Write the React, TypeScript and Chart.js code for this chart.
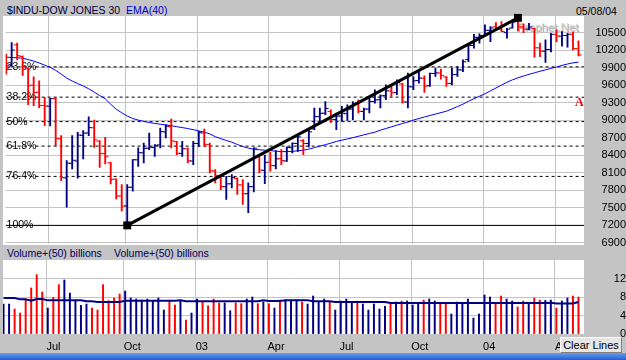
import { useEffect, useRef } from 'react';
import { Chart, registerables } from 'chart.js';

Chart.register(...registerables);

// ---- data (weekly bars, May 2002 - May 2004) ----
const OPEN = [
  10080, 9950, 10290, 10090, 9890, 9600, 9480, 9250, 9240, 9370,
  8680, 8010, 8260, 8300, 8740, 8780, 8870, 8640, 8430, 8270,
  7990, 7700, 7530, 7850, 8320, 8440, 8520, 8530, 8575, 8800,
  8890, 8630, 8430, 8510, 8300, 8600, 8780, 8580, 8130, 8050,
  7860, 7910, 8000, 7890, 7740, 7860, 8380, 8140, 8280, 8220,
  8340, 8300, 8530, 8600, 8650, 8600, 8850, 9060, 9120, 9150,
  9010, 9070, 9110, 9190, 9280, 9150, 9190, 9320, 9350, 9420,
  9500, 9470, 9620, 9310, 9570, 9680, 9720, 9590, 9800, 9810,
  9740, 9630, 9780, 9860, 10040, 10280, 10420, 10450, 10540, 10600,
  10560, 10500, 10580, 10690, 10600, 10560, 10570, 10240, 10180, 10210,
  10470, 10440, 10450, 10470, 10225,
];
const HIGH = [
  10131, 10329, 10319, 10102, 9897, 9743, 9674, 9392, 9375, 9392,
  8734, 8307, 8734, 8791, 8820, 9059, 9003, 8649, 8705, 8278,
  7994, 7897, 7897, 8324, 8524, 8609, 8780, 8580, 8866, 8922,
  9020, 8637, 8637, 8524, 8637, 8808, 8849, 8609, 8153, 8068,
  8038, 8068, 8011, 7982, 7926, 8524, 8395, 8400, 8450, 8480,
  8495, 8545, 8610, 8737, 8666, 8837, 9208, 9208, 9320, 9179,
  9122, 9235, 9264, 9320, 9350, 9208, 9379, 9521, 9435, 9606,
  9589, 9691, 9635, 9806, 9748, 9833, 9760, 9806, 9891, 9874,
  9748, 9891, 9919, 10033, 10290, 10470, 10478, 10632, 10603, 10671,
  10688, 10575, 10717, 10753, 10650, 10660, 10575, 10319, 10375, 10490,
  10546, 10520, 10490, 10505, 10360,
];
const LOW = [
  9789, 9919, 10033, 9768, 9264, 9247, 9213, 8905, 8900, 8563,
  7965, 7509, 8165, 8004, 8336, 8734, 8534, 8192, 8250, 7909,
  7652, 7440, 7197, 7782, 8209, 8268, 8495, 8380, 8524, 8695,
  8524, 8409, 8380, 8268, 8238, 8551, 8551, 8097, 7926, 7811,
  7640, 7840, 7726, 7555, 7416, 7770, 8097, 7910, 8124, 8165,
  8238, 8295, 8438, 8466, 8409, 8538, 8837, 8979, 9093, 8962,
  8837, 8979, 8995, 9008, 9122, 9008, 9122, 9293, 9208, 9350,
  9406, 9435, 9293, 9208, 9521, 9635, 9474, 9577, 9748, 9703,
  9577, 9606, 9748, 9833, 10004, 10233, 10319, 10432, 10346, 10546,
  10517, 10404, 10575, 10530, 10500, 10546, 10080, 10090, 9990, 10170,
  10340, 10270, 10250, 10205, 10100,
];
const CLOSE = [
  9940, 10200, 10105, 9925, 9590, 9474, 9253, 9243, 9370, 8684,
  8019, 8264, 8313, 8745, 8778, 8872, 8664, 8427, 8380, 7986,
  7701, 7528, 7850, 8322, 8443, 8517, 8537, 8570, 8804, 8896,
  8645, 8433, 8511, 8303, 8601, 8785, 8586, 8131, 8053, 7864,
  7908, 8018, 7891, 7740, 7859, 8521, 8145, 8277, 8221, 8337,
  8306, 8530, 8604, 8713, 8601, 8800, 9062, 9117, 9200, 9011,
  9070, 9119, 9188, 9285, 9153, 9191, 9321, 9348, 9416, 9503,
  9472, 9644, 9313, 9573, 9674, 9721, 9582, 9801, 9810, 9768,
  9629, 9782, 9863, 10000, 10278, 10420, 10450, 10540, 10580, 10560,
  10520, 10560, 10680, 10600, 10560, 10595, 10240, 10186, 10212, 10470,
  10442, 10452, 10472, 10225, 10117,
];
const EMA40 = [
  10080, 10074, 10069, 10062, 10038, 10013, 9980, 9943, 9905, 9854,
  9789, 9721, 9671, 9628, 9586, 9538, 9481, 9421, 9367, 9273,
  9187, 9127, 9071, 9028, 9001, 8980, 8960, 8944, 8931, 8919,
  8905, 8888, 8873, 8856, 8837, 8816, 8794, 8765, 8717, 8683,
  8652, 8623, 8584, 8548, 8521, 8503, 8493, 8486, 8478, 8469,
  8461, 8461, 8466, 8474, 8486, 8503, 8529, 8555, 8580, 8606,
  8635, 8657, 8678, 8700, 8724, 8748, 8772, 8794, 8828, 8857,
  8885, 8914, 8941, 8970, 9001, 9028, 9054, 9080, 9103, 9129,
  9153, 9192, 9233, 9274, 9324, 9367, 9409, 9452, 9503, 9551,
  9601, 9649, 9691, 9726, 9756, 9785, 9811, 9838, 9862, 9888,
  9910, 9938, 9962, 9982, 9994,
];
const VOLUME = [
  6.49, 6.49, 5.41, 4.54, 7.43, 9.95, 12.83, 9.08, 5.62, 7.93,
  10.67, 11.68, 8.87, 7.21, 6.20, 6.49, 5.62, 5.19, 10.67, 7.21,
  7.79, 8.65, 9.30, 7.79, 7.57, 7.35, 7.57, 7.07, 7.79, 5.19,
  7.07, 6.27, 7.35, 3.03, 4.54, 7.57, 7.07, 6.13, 7.57, 6.71,
  6.71, 5.05, 6.71, 6.56, 7.57, 8.00, 6.56, 6.92, 6.56, 5.62,
  7.35, 7.35, 7.35, 7.35, 6.92, 6.49, 8.22, 6.92, 7.57, 6.92,
  5.19, 7.14, 7.57, 6.92, 7.14, 6.49, 5.19, 6.49, 5.41, 5.98,
  6.49, 6.92, 7.14, 7.14, 6.27, 6.49, 7.35, 7.57, 7.14, 6.71,
  6.49, 4.33, 6.92, 6.71, 7.57, 3.46, 4.33, 8.44, 8.00, 6.71,
  8.22, 7.57, 7.14, 5.84, 7.14, 6.71, 7.79, 7.35, 7.28, 7.35,
  5.62, 7.14, 7.79, 8.22, 8.00,
];
const VOL_MA50 = [
  7.79, 7.79, 7.79, 7.50, 7.50, 7.21, 7.57, 7.57, 7.28, 7.28,
  7.28, 7.28, 7.28, 7.28, 7.28, 7.07, 7.07, 6.92, 6.92, 6.92,
  6.92, 6.92, 7.21, 7.21, 7.21, 7.21, 7.21, 7.21, 7.21, 7.21,
  7.21, 7.21, 7.28, 7.07, 7.07, 7.07, 7.07, 7.07, 7.07, 7.07,
  7.07, 7.07, 7.07, 7.07, 7.07, 7.07, 7.07, 7.28, 7.14, 7.14,
  7.14, 7.28, 7.28, 7.28, 7.28, 7.28, 7.07, 7.07, 7.07, 7.07,
  6.92, 6.92, 6.92, 6.92, 6.92, 6.92, 6.92, 6.92, 6.92, 6.92,
  6.71, 6.71, 6.71, 6.71, 6.71, 6.71, 6.71, 6.71, 6.71, 6.71,
  6.71, 6.71, 6.71, 6.71, 6.71, 6.71, 6.71, 6.71, 6.71, 6.71,
  6.71, 6.71, 6.71, 6.71, 6.71, 6.71, 6.71, 6.71, 6.71, 6.78,
  6.63, 6.63, 6.63, 6.63, 6.92,
];

// x-axis month boundaries (in week-index units) and their labels
const X_TICK_POS = [7.75, 21.75, 34.75, 47.75, 60.75, 73.75, 86.75, 99.75];
const X_TICK_LABELS = ['Jul', 'Oct', '03', 'Apr', 'Jul', 'Oct', '04', 'Apr'];
const PRICE_TICKS = [6900, 7200, 7500, 7800, 8100, 8400, 8700, 9000, 9300, 9600, 9900, 10200, 10500];
const VOL_TICKS = [0, 4, 8, 12];

// Fibonacci retracement drawn between the swing low and swing high
const SWING_LOW = { week: 22, value: 7197 };
const SWING_HIGH = { week: 93, value: 10753 };
const FIB_RATIOS = [0.236, 0.382, 0.5, 0.618, 0.764, 1.0];
const FIB_LABELS = ['23.6%', '38.2%', '50%', '61.8%', '76.4%', '100%'];

const TITLE = '$INDU-DOW JONES 30';
const EMA_LABEL = 'EMA(40)';
const LAST_DATE = '05/08/04';
const VOL_LABEL = 'Volume+(50) billions';

const FONT = '"Liberation Sans", Arial, Helvetica, sans-serif';
const RED = '#ff0000';
const NAVY = '#000080';
const GRID = '#c4c4c4';
const X_MIN = -0.1;
const X_MAX = 105;

const noPad = (s: any) => {
  s.paddingTop = 0;
  s.paddingBottom = 0;
  s.paddingLeft = 0;
  s.paddingRight = 0;
};

export default function App() {
  const priceRef = useRef<HTMLCanvasElement>(null);
  const volRef = useRef<HTMLCanvasElement>(null);

  useEffect(() => {
    Chart.defaults.font.family = FONT;
    Chart.defaults.color = '#000';

    const m = document.createElement('canvas').getContext('2d')!;
    m.font = `11px ${FONT}`;
    const pricePad = 35 - m.measureText('10500').width;
    const volPad = 35 - m.measureText('12').width;

    const priceColors = CLOSE.map((c, i) =>
      (i === 0 ? c >= OPEN[0] : c >= CLOSE[i - 1]) ? NAVY : RED);
    const volColors = CLOSE.map((c, i) =>
      (i === 0 ? true : c >= CLOSE[i - 1]) ? NAVY : RED);

    const fibLevels = FIB_RATIOS.map(r => SWING_HIGH.value - r * (SWING_HIGH.value - SWING_LOW.value));

    const xScale = (showLabels: boolean) => ({
      type: 'linear' as const,
      min: X_MIN,
      max: X_MAX,
      offset: false,
      afterBuildTicks: (s: any) => { s.ticks = X_TICK_POS.map(v => ({ value: v })); },
      afterFit: (s: any) => { s.height = showLabels ? 17 : 0; noPad(s); },
      grid: { color: GRID, drawTicks: false, offset: false, lineWidth: 1 },
      border: { display: false },
      ticks: {
        display: showLabels,
        align: 'start' as const,
        autoSkip: false,
        maxRotation: 0,
        padding: 5,
        font: { size: 11 },
        color: '#000',
        callback: (_v: any, idx: number) => X_TICK_LABELS[idx],
      },
    });

    const fibDatasets = fibLevels.map((lvl, k) => ({
      type: 'line' as const,
      data: [{ x: X_MIN, y: lvl }, { x: X_MAX, y: lvl }],
      borderColor: '#000',
      borderWidth: 1,
      borderDash: FIB_RATIOS[k] === 1 ? [] : [3, 3],
      pointRadius: 0,
      order: 10,
      xAxisID: 'x',
      yAxisID: 'y',
    }));

    const priceChart = new Chart(priceRef.current!, {
      type: 'bar',
      data: {
        datasets: [
          ...fibDatasets,
          {
            type: 'line',
            data: EMA40.map((v, i) => ({ x: i, y: v })),
            borderColor: '#0000ff',
            borderWidth: 1,
            pointRadius: 0,
            order: 8,
            xAxisID: 'x',
            yAxisID: 'y',
          },
          {
            type: 'bar',
            data: HIGH.map((h, i) => ({ x: i, y: [LOW[i], h] })) as any,
            backgroundColor: priceColors,
            barThickness: 1.2,
            borderWidth: 0,
            order: 5,
            xAxisID: 'x',
            yAxisID: 'y',
          },
          {
            type: 'line',
            data: OPEN.map((o, i) => ({ x: i - 0.3, y: o })),
            showLine: false,
            pointStyle: 'line',
            pointRadius: 1.6,
            pointBorderWidth: 1,
            pointBorderColor: priceColors,
            pointBackgroundColor: priceColors,
            order: 4,
            xAxisID: 'x',
            yAxisID: 'y',
          },
          {
            type: 'line',
            data: CLOSE.map((c, i) => ({ x: i + 0.3, y: c })),
            showLine: false,
            pointStyle: 'line',
            pointRadius: 1.6,
            pointBorderWidth: 1,
            pointBorderColor: priceColors,
            pointBackgroundColor: priceColors,
            order: 4,
            xAxisID: 'x',
            yAxisID: 'y',
          },
          {
            type: 'line',
            data: [
              { x: SWING_LOW.week, y: SWING_LOW.value },
              { x: SWING_HIGH.week, y: SWING_HIGH.value },
            ],
            borderColor: '#000',
            borderWidth: 3,
            pointStyle: 'rect',
            pointRadius: 5.6,
            pointBackgroundColor: '#000',
            pointBorderColor: '#000',
            pointBorderWidth: 0,
            order: 1,
            clip: false as any,
            xAxisID: 'x',
            yAxisID: 'y',
          },
        ] as any,
      },
      options: {
        responsive: false,
        animation: false,
        events: [],
        layout: { padding: { left: 3, top: 16, right: 0, bottom: 5 } },
        plugins: { legend: { display: false }, tooltip: { enabled: false } },
        scales: {
          x: xScale(false) as any,
          y: {
            type: 'linear',
            position: 'right',
            min: 6871,
            max: 10785,
            afterBuildTicks: (s: any) => { s.ticks = PRICE_TICKS.map(v => ({ value: v })); },
            afterFit: (s: any) => { s.width = 42; noPad(s); },
            grid: { color: GRID, drawTicks: false },
            border: { display: false },
            ticks: {
              crossAlign: 'far',
              padding: pricePad,
              autoSkip: false,
              font: { size: 11 },
              color: '#000',
              callback: (v: any) => String(v),
            },
          },
          yFib: {
            type: 'linear',
            position: 'left',
            min: 6871,
            max: 10785,
            afterBuildTicks: (s: any) => { s.ticks = fibLevels.map(v => ({ value: v })); },
            afterFit: (s: any) => { s.width = 0; noPad(s); },
            grid: { display: false, drawTicks: false },
            border: { display: false },
            ticks: {
              mirror: true,
              padding: 1,
              autoSkip: false,
              font: { size: 10.5 },
              color: '#000',
              callback: (_v: any, idx: number) => FIB_LABELS[idx],
            },
          },
        },
      },
    });

    const volChart = new Chart(volRef.current!, {
      type: 'bar',
      data: {
        datasets: [
          {
            type: 'bar',
            data: VOLUME.map((v, i) => ({ x: i, y: v })) as any,
            backgroundColor: volColors,
            barThickness: 1.3,
            borderWidth: 0,
            order: 5,
          },
          {
            type: 'line',
            data: VOL_MA50.map((v, i) => ({ x: i, y: v })),
            borderColor: NAVY,
            borderWidth: 2,
            pointRadius: 0,
            order: 1,
          },
        ] as any,
      },
      options: {
        responsive: false,
        animation: false,
        events: [],
        layout: { padding: { left: 3, top: 0, right: 0, bottom: 0 } },
        plugins: { legend: { display: false }, tooltip: { enabled: false } },
        scales: {
          x: xScale(true) as any,
          y: {
            type: 'linear',
            position: 'right',
            min: -0.2,
            max: 16,
            afterBuildTicks: (s: any) => { s.ticks = VOL_TICKS.map(v => ({ value: v })); },
            afterFit: (s: any) => { s.width = 42; noPad(s); },
            grid: { color: GRID, drawTicks: false },
            border: { display: false },
            ticks: {
              crossAlign: 'far',
              padding: volPad,
              autoSkip: false,
              font: { size: 11 },
              color: '#000',
              callback: (v: any) => String(v),
            },
          },
        },
      },
    });

    return () => {
      priceChart.destroy();
      volChart.destroy();
    };
  }, []);

  const txt: React.CSSProperties = { position: 'absolute', whiteSpace: 'nowrap', fontSize: 10.5, lineHeight: '12px' };

  return (
    <div style={{ position: 'fixed', left: 0, top: 0, width: 626, height: 360, background: '#c4c4c4', overflow: 'hidden', fontFamily: FONT }}>
      {/* plot backgrounds */}
      <div style={{ position: 'absolute', left: 3, top: 16, width: 581, height: 229, background: '#fff' }} />
      <div style={{ position: 'absolute', left: 3, top: 260, width: 581, height: 75, background: '#fff' }} />
      {/* watermark */}
      <div style={{ ...txt, left: 517, top: 21, fontSize: 11.5, color: '#cfcfcf', textShadow: '1px 1px 0 #a8a8a8' }}>Prophet.Net</div>
      {/* header texts */}
      <div style={{ ...txt, left: 7, top: 4, color: '#000040' }}>{TITLE}</div>
      <div style={{ ...txt, left: 126, top: 4, color: '#0000dd' }}>{EMA_LABEL}</div>
      <div style={{ ...txt, left: 576, top: 5, color: '#000' }}>{LAST_DATE}</div>
      <div style={{ ...txt, left: 7, top: 247, color: '#000060' }}>{VOL_LABEL}</div>
      <div style={{ ...txt, left: 114, top: 247, color: '#000060' }}>{VOL_LABEL}</div>
      <canvas ref={priceRef} width={626} height={250} style={{ position: 'absolute', left: 0, top: 0 }} />
      <canvas ref={volRef} width={626} height={92} style={{ position: 'absolute', left: 0, top: 260 }} />
      {/* annotation */}
      <div style={{ position: 'absolute', left: 575, top: 96, fontFamily: '"Liberation Serif", "Times New Roman", serif', fontWeight: 'bold', fontSize: 12, lineHeight: '12px', color: '#ff0000' }}>A</div>
      {/* button */}
      <div style={{ position: 'absolute', left: 560, top: 337, width: 60, height: 14, background: '#e6e6e6', borderTop: '1px solid #fff', borderLeft: '1px solid #fff', borderRight: '1px solid #808080', borderBottom: '1px solid #808080', fontSize: 11, lineHeight: '14px', textAlign: 'center', color: '#000' }}>Clear Lines</div>
      {/* bottom strip */}
      <div style={{ position: 'absolute', left: 0, top: 353, width: 626, height: 7, background: 'linear-gradient(#6a9ae8, #1f5fd8)' }} />
    </div>
  );
}
